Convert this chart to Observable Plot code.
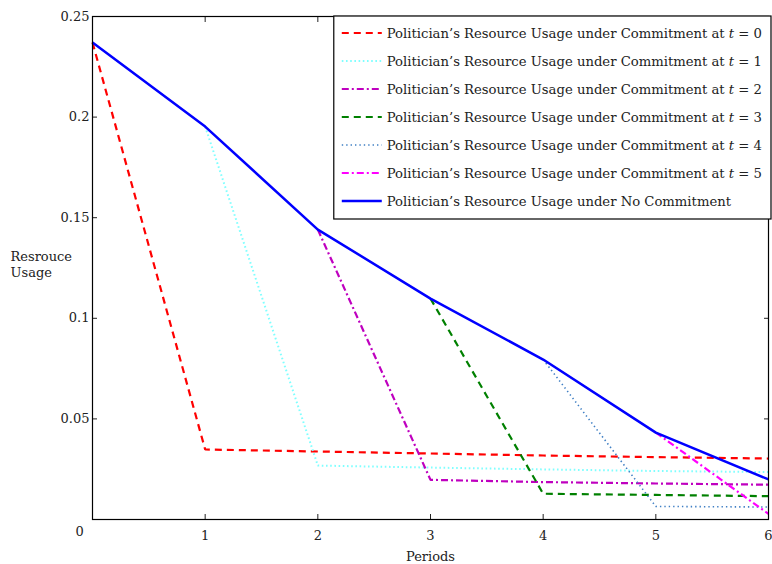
<!DOCTYPE html>
<html>
<head>
<meta charset="utf-8">
<script src="https://cdn.jsdelivr.net/npm/d3@7"></script>
<script src="https://cdn.jsdelivr.net/npm/@observablehq/plot@0.6"></script>
<style>
  html, body { margin: 0; padding: 0; background: #fff; }
  #chart { width: 772px; height: 564px; }
</style>
</head>
<body>
<div id="chart"></div>
<script>
const periods = [0, 1, 2, 3, 4, 5, 6];
const noCommitment = [0.2371, 0.1953, 0.1441, 0.1098, 0.0795, 0.0432, 0.0199];
const commitT0 = [0.2371, 0.0348, 0.0338, 0.0328, 0.0318, 0.0310, 0.0303];
const commitT1 = [0.1953, 0.0268, 0.0258, 0.0249, 0.0241, 0.0236];
const commitT2 = [0.1441, 0.0197, 0.0186, 0.0179, 0.0173];
const commitT3 = [0.1098, 0.0128, 0.0122, 0.0116];
const commitT4 = [0.0795, 0.0065, 0.0062];
const commitT5 = [0.0432, 0.0028];
const xTicks = [1, 2, 3, 4, 5, 6];
const yTicks = [0.05, 0.1, 0.15, 0.2, 0.25];

const seriesLabels = [
  "Politician’s Resource Usage under Commitment at |t| = 0",
  "Politician’s Resource Usage under Commitment at |t| = 1",
  "Politician’s Resource Usage under Commitment at |t| = 2",
  "Politician’s Resource Usage under Commitment at |t| = 3",
  "Politician’s Resource Usage under Commitment at |t| = 4",
  "Politician’s Resource Usage under Commitment at |t| = 5",
  "Politician’s Resource Usage under No Commitment"
];

const styles = [
  {stroke: "#ff0000", width: 2.2, dash: "7,5"},
  {stroke: "#7fffff", width: 2, dash: "1.6,2.6"},
  {stroke: "#bf00bf", width: 2.2, dash: "7,3,2,3"},
  {stroke: "#008000", width: 2.2, dash: "7,5"},
  {stroke: "#3f7fc4", width: 1.6, dash: "1.4,3"},
  {stroke: "#ff00ff", width: 2.2, dash: "7,3,2,3"},
  {stroke: "#0000ff", width: 2.5, dash: null}
];

const seriesValues = [commitT0, commitT1, commitT2, commitT3, commitT4, commitT5, noCommitment];
const seriesStart = [0, 1, 2, 3, 4, 5, 0];

const tables = seriesValues.map((vals, i) =>
  vals.map((v, j) => ({period: periods[seriesStart[i] + j], value: v, series: i}))
);

const font = "'DejaVu Serif', 'Liberation Serif', serif";

const plot = Plot.plot({
  width: 772,
  height: 564,
  marginLeft: 92,
  marginRight: 4,
  marginTop: 16,
  marginBottom: 45,
  style: {fontFamily: font, fontSize: "13px", color: "#222", background: "#fff"},
  x: {domain: [0, 6]},
  y: {domain: [0, 0.25]},
  marks: [
    Plot.axisX({ticks: xTicks, tickSize: -5, tickPadding: 16, tickFormat: d => String(d), label: null, fill: "#222"}),
    Plot.axisX({anchor: "top", ticks: xTicks, tickSize: -5, tickFormat: () => "", label: null}),
    Plot.axisY({ticks: yTicks, tickSize: -5, tickPadding: 8, tickFormat: d => String(d), label: null, fill: "#222"}),
    Plot.axisY({anchor: "right", ticks: yTicks, tickSize: -5, tickFormat: () => "", label: null}),
    Plot.text(["0"], {frameAnchor: "bottom-left", dx: -17, dy: 16, fill: "#222", fontSize: 13}),
    Plot.text(["Periods"], {frameAnchor: "bottom", dy: 41, fill: "#222", fontSize: 13}),
    Plot.text(["Resrouce\nUsage"], {frameAnchor: "left", dx: -82, dy: -4, textAnchor: "start", lineHeight: 1.25, fill: "#222", fontSize: 13}),
    ...tables.map((t, i) => Plot.line(t, {
      x: "period", y: "value",
      stroke: styles[i].stroke,
      strokeWidth: styles[i].width,
      strokeDasharray: styles[i].dash,
      strokeLinejoin: "miter",
      strokeLinecap: "butt"
    })),
    Plot.frame({stroke: "#000", strokeWidth: 1.2})
  ]
});

document.getElementById("chart").appendChild(plot);

// Legend (inside the plot, top right)
{
  const svg = d3.select(plot);
  const frameRight = 772 - 4;
  const frameTop = 16;
  const rowH = 28;
  const lg = svg.append("g").attr("font-family", font).attr("font-size", 13.2).attr("text-anchor", "start");
  const box = lg.append("rect")
    .attr("fill", "#fff").attr("stroke", "#000").attr("stroke-width", 1.2);
  const rows = lg.selectAll("g.row").data(seriesLabels).join("g")
    .attr("class", "row");
  rows.append("line")
    .attr("x1", 0).attr("x2", 40)
    .attr("stroke", (d, i) => styles[i].stroke)
    .attr("stroke-width", (d, i) => styles[i].width)
    .attr("stroke-dasharray", (d, i) => styles[i].dash);
  const texts = rows.append("text").attr("x", 45).attr("dy", "0.35em").attr("fill", "#222").attr("text-anchor", "start");
  texts.each(function(d) {
    const parts = d.split("|");
    const t = d3.select(this);
    parts.forEach((p, k) => {
      t.append("tspan").text(p).attr("font-style", k === 1 ? "italic" : null);
    });
  });
  let maxW = 0;
  texts.each(function() { maxW = Math.max(maxW, this.getComputedTextLength()); });
  const boxW = 45 + maxW + 9 + 8;
  const boxLeft = frameRight + 3 - boxW;
  rows.attr("transform", (d, i) => `translate(${boxLeft + 8},${frameTop + 17 + i * rowH})`);
  box.attr("x", boxLeft).attr("y", frameTop).attr("width", boxW).attr("height", 203);
}
</script>
</body>
</html>
